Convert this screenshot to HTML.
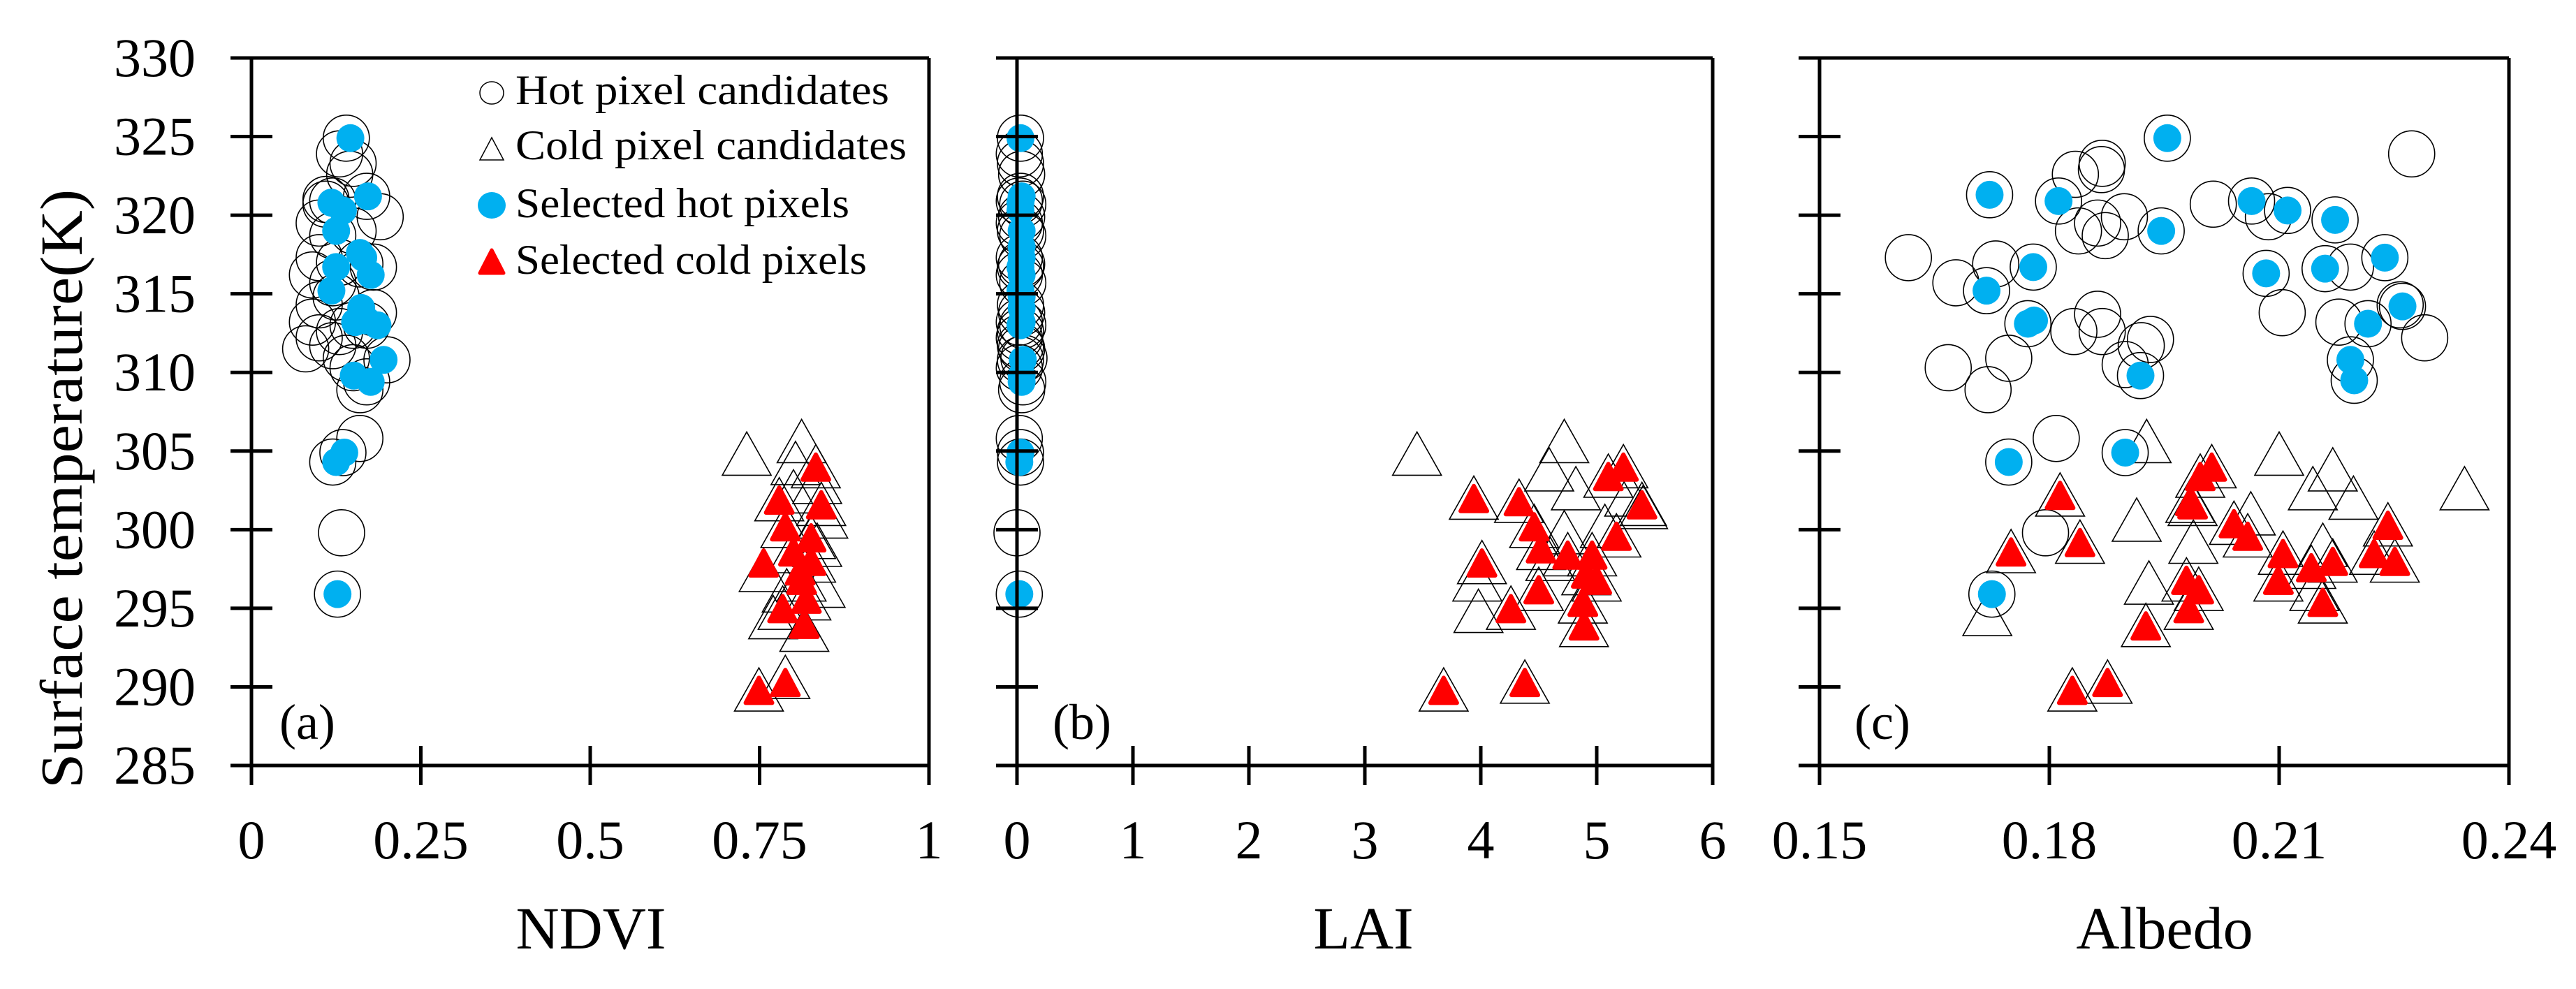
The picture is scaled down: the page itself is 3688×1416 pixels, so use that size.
<!DOCTYPE html>
<html><head><meta charset="utf-8"><style>
html,body{margin:0;padding:0;background:#fff;}
svg{display:block;font-family:"Liberation Serif",serif;}
</style></head><body>
<svg id="chart" width="3688" height="1416" viewBox="0 0 3688 1416" xmlns="http://www.w3.org/2000/svg"></svg>
<script>
// ---------- shared y axis ----------
const yTicks = [285,290,295,300,305,310,315,320,325,330];

// ---------- panel (a) NDVI ----------
const aHotCandX = [0.14,0.13,0.145,0.15,0.12,0.11,0.17,0.19,0.10,0.15,0.12,0.10,0.16,0.18,0.09,0.12,0.10,0.18,0.09,0.15,0.13,0.10,0.08,0.12,0.14,0.20,0.15,0.16,0.12,0.16,0.133,0.127,0.135,0.17,0.11,0.13,0.17,0.125];
const aHotCandY = [324.9,323.9,322.6,323.3,320.9,320.7,321.2,319.9,319.5,319.0,318.7,317.3,316.9,316.7,316.2,315.7,314.3,313.8,313.2,313.0,312.6,312.2,311.5,311.7,310.9,310.8,310.3,308.9,304.3,305.8,299.8,295.9,304.9,309.4,321.0,317.0,313.0,314.8];
const aHotSelX = [0.146,0.172,0.118,0.135,0.125,0.165,0.125,0.176,0.118,0.162,0.153,0.186,0.195,0.151,0.176,0.125,0.137,0.127,0.17,0.16];
const aHotSelY = [324.9,321.2,320.8,320.3,319.0,317.3,316.7,316.2,315.2,314.1,313.2,313.0,310.8,309.8,309.4,304.3,304.9,295.9,313.3,317.6];
const aColdCandX = [0.731,0.812,0.803,0.835,0.844,0.756,0.835,0.770,0.816,0.840,0.788,0.749,0.779,0.826,0.800,0.826,0.812,0.819,0.784,0.833,0.788,0.841,0.80,0.79];
const aColdCandY = [304.7,305.5,304.1,302.9,300.7,297.3,298.9,294.3,293.5,296.3,290.5,289.7,301.8,299.4,298.5,297.9,296.7,295.5,294.9,303.9,300.1,301.5,302.3,296.0];
const aColdSelX = [0.833,0.779,0.841,0.788,0.826,0.800,0.826,0.756,0.812,0.819,0.784,0.816,0.749,0.788,0.81];
const aColdSelY = [303.9,301.8,301.5,300.1,299.4,298.5,297.9,297.8,296.7,295.5,294.9,293.9,289.7,290.2,297.3];

// ---------- panel (b) LAI ----------
const bHotCandX = [0.03,0.02,0.04,0.03,0.02,0.05,0.03,0.04,0.02,0.03,0.05,0.02,0.04,0.03,0.02,0.05,0.03,0.04,0.02,0.05,0.03,0.02,0.04,0.03,0.06,0.03,0.02,0.04,0.03,0.02,0.0,0.02,0.03,0.05];
const bHotCandY = [324.9,323.9,322.6,323.3,320.9,320.7,321.2,319.9,319.5,319.0,318.7,317.3,316.9,316.7,316.2,315.7,314.3,313.8,313.2,313.0,312.6,312.2,311.5,311.7,310.9,310.8,310.3,308.9,304.3,305.8,299.8,295.9,304.9,309.4];
const bHotSelX = [0.03,0.04,0.03,0.03,0.04,0.04,0.03,0.04,0.03,0.04,0.04,0.03,0.05,0.04,0.04,0.02,0.03,0.02,0.04,0.04];
const bHotSelY = [324.9,321.2,320.8,320.3,319.0,317.3,316.7,316.2,315.2,314.1,313.2,313.0,310.8,309.8,309.4,304.3,304.9,295.9,318.0,314.8];
const bColdCandX = [3.45,4.72,4.59,4.82,3.98,3.97,5.28,5.40,4.72,5.07,3.94,4.33,4.46,5.10,5.23,5.39,5.17,4.52,4.75,4.96,4.01,4.91,5.00,4.50,4.88,4.26,4.89,3.68,4.38,4.60];
const bColdCandY = [304.7,305.5,303.7,302.5,294.7,296.7,302.1,301.3,299.7,300.1,301.9,301.7,300.1,303.3,303.9,301.5,299.5,298.7,298.3,298.3,297.8,297.1,296.7,296.1,295.3,294.9,293.8,289.7,290.2,298.0];
const bColdSelX = [3.94,4.33,4.46,5.10,5.23,5.39,5.17,4.52,4.75,4.96,4.01,4.91,5.00,4.50,4.88,4.26,4.89,3.68,4.38];
const bColdSelY = [301.9,301.7,300.1,303.3,303.9,301.5,299.5,298.7,298.3,298.3,297.8,297.1,296.7,296.1,295.3,294.9,293.8,289.7,290.2];

// ---------- panel (c) Albedo ----------
const cHotCandX = [0.1616,0.1678,0.1730,0.1668,0.1720,0.1747,0.1834,0.1868,0.1869,0.1838,0.1863,0.1873,0.1898,0.1832,0.1863,0.1869,0.1899,0.1932,0.1920,0.2014,0.2086,0.2104,0.2193,0.2178,0.2258,0.2290,0.2273,0.1809,0.1795,
  0.1722,0.1812,0.1954,0.1946,0.1779,0.1718,0.1772,0.1919,0.1747,0.1899,0.1725,0.2064,0.2111,0.2173,0.2083,0.2160,0.2238,0.2261,0.2216,0.2193,0.2198];
const cHotCandY = [317.3,315.7,316.9,310.3,308.9,310.9,322.6,322.9,323.3,319.0,319.5,318.7,319.9,312.6,313.7,312.6,310.5,312.1,311.7,320.7,319.9,313.8,316.7,313.2,314.3,312.2,323.9,305.8,299.8,
  321.3,320.9,324.9,319.0,316.7,315.2,313.1,309.8,304.3,304.9,295.9,320.9,320.3,319.7,316.3,316.6,317.3,314.2,313.1,310.8,309.5];
const cHotSelX = [0.1722,0.1812,0.1954,0.1946,0.1779,0.1718,0.1772,0.1780,0.1919,0.1747,0.1899,0.1725,0.2064,0.2111,0.2173,0.2083,0.2160,0.2238,0.2261,0.2216,0.2193,0.2198];
const cHotSelY = [321.3,320.9,324.9,319.0,316.7,315.2,313.1,313.3,309.8,304.3,304.9,295.9,320.9,320.3,319.7,316.3,316.6,317.3,314.2,313.1,310.8,309.5];
const cColdCandX = [0.1927,0.2100,0.2170,0.2144,0.2197,0.2342,0.1914,0.2063,0.1988,0.1930,0.1719,0.2157,0.2146,
  0.1814,0.1750,0.1840,0.2012,0.1997,0.1984,0.1987,0.2041,0.2059,0.2105,0.2142,0.2170,0.2099,0.1979,0.1995,0.1982,0.2157,0.2242,0.2224,0.2251,0.1926,0.1830,0.1876];
const cColdCandY = [305.5,304.7,303.7,302.5,301.9,302.5,300.5,300.9,299.1,296.5,294.5,298.9,296.1,
  302.1,298.5,299.1,303.9,303.3,301.7,301.5,300.3,299.5,298.4,297.5,297.9,296.7,296.7,296.1,294.9,295.3,300.2,298.4,297.9,293.8,289.7,290.2];
const cColdSelX = [0.1814,0.1750,0.1840,0.2012,0.1997,0.1984,0.1987,0.2041,0.2059,0.2105,0.2142,0.2170,0.2099,0.1979,0.1995,0.1982,0.2157,0.2242,0.2224,0.2251,0.1926,0.1830,0.1876];
const cColdSelY = [302.1,298.5,299.1,303.9,303.3,301.7,301.5,300.3,299.5,298.4,297.5,297.9,296.7,296.7,296.1,294.9,295.3,300.2,298.4,297.9,293.8,289.7,290.2];

const aXTicks = [0,0.25,0.5,0.75,1];
const aXLabels = ["0","0.25","0.5","0.75","1"];
const bXTicks = [0,1,2,3,4,5,6];
const bXLabels = ["0","1","2","3","4","5","6"];
const cXTicks = [0.15,0.18,0.21,0.24];
const cXLabels = ["0.15","0.18","0.21","0.24"];

const NS = "http://www.w3.org/2000/svg";
const svg = document.getElementById('chart');
const TOP = 83, BOT = 1096, YMIN = 285, YMAX = 330;
function yScale(v){ return BOT - (v - YMIN) / (YMAX - YMIN) * (BOT - TOP); }
function mk(tag, attrs, parent){
  const e = document.createElementNS(NS, tag);
  for (const k in attrs) e.setAttribute(k, attrs[k]);
  (parent || svg).appendChild(e);
  return e;
}
function triPts(cx, cy, w, h){
  return (cx - w/2) + ',' + (cy + h*0.45) + ' ' + (cx + w/2) + ',' + (cy + h*0.45) + ' ' + cx + ',' + (cy - h*0.55);
}

function panel(p){
  const g = mk('g', {});
  
  
  const xs = v => p.x0 + (v - p.xmin) / (p.xmax - p.xmin) * (p.x1 - p.x0);
  const yAxisX = xs(p.yAxisAt);
  for (let i = 0; i < p.hcx.length; i++){
    const c = mk('circle', {cx: xs(p.hcx[i]), cy: yScale(p.hcy[i]), r: 33, fill: 'none', stroke: '#000', 'stroke-width': 1.6}, g);
    
    
  }
  for (let i = 0; i < p.ccx.length; i++){
    const t = mk('polygon', {points: triPts(xs(p.ccx[i]), yScale(p.ccy[i]), 70, 62), fill: 'none', stroke: '#000', 'stroke-width': 1.6}, g);
    
    
  }
  for (let i = 0; i < p.hsx.length; i++){
    const c = mk('circle', {cx: xs(p.hsx[i]), cy: yScale(p.hsy[i]), r: 20, fill: '#00b0f0'}, g);
    
    
  }
  for (let i = 0; i < p.csx.length; i++){
    const t = mk('polygon', {points: triPts(xs(p.csx[i]), yScale(p.csy[i]), 38, 36), fill: '#ff0000', stroke: '#ff0000', 'stroke-width': 6, 'stroke-linejoin': 'round'}, g);
    
    
  }
  const ax = mk('g', {stroke: '#000', 'stroke-width': 5, fill: 'none'}, g);
  
  
  mk('line', {x1: yAxisX - 25, y1: TOP, x2: p.x1, y2: TOP}, ax);
  mk('line', {x1: p.x1, y1: TOP, x2: p.x1, y2: BOT}, ax);
  mk('line', {x1: Math.min(p.x0, yAxisX - 25), y1: BOT, x2: p.x1, y2: BOT}, ax);
  if (p.yAxisAt !== p.xmin) mk('line', {x1: p.x0, y1: TOP, x2: p.x0, y2: BOT}, ax);
  mk('line', {x1: yAxisX, y1: TOP, x2: yAxisX, y2: BOT}, ax);
  yTicks.forEach(v => { mk('line', {x1: yAxisX - 30, y1: yScale(v), x2: yAxisX + 30, y2: yScale(v)}, ax); });
  p.ticks.forEach(v => { mk('line', {x1: xs(v), y1: BOT - 28, x2: xs(v), y2: BOT + 28}, ax); });
  p.ticks.forEach((v, i) => {
    const t = mk('text', {x: xs(v), y: 1229, 'font-size': 78, 'text-anchor': 'middle', fill: '#000'}, g);
    t.textContent = p.labels[i];
    
    
  });
  const tt = mk('text', {x: p.titleX, y: 1358, 'font-size': 86, 'text-anchor': 'middle', fill: '#000'}, g);
  tt.textContent = p.title;
  
  
  const pl = mk('text', {x: p.tagX, y: 1058, 'font-size': 72, fill: '#000'}, g);
  pl.textContent = '(' + p.id + ')';
  
  
}

panel({id:'a', x0:360, x1:1330, xmin:0, xmax:1, yAxisAt:0, ticks:aXTicks, labels:aXLabels, title:'NDVI', titleX:846, tagX:400,
  hcx:aHotCandX, hcy:aHotCandY, hsx:aHotSelX, hsy:aHotSelY, ccx:aColdCandX, ccy:aColdCandY, csx:aColdSelX, csy:aColdSelY});
panel({id:'b', x0:1456, x1:2452, xmin:0, xmax:6, yAxisAt:0, ticks:bXTicks, labels:bXLabels, title:'LAI', titleX:1952, tagX:1507,
  hcx:bHotCandX, hcy:bHotCandY, hsx:bHotSelX, hsy:bHotSelY, ccx:bColdCandX, ccy:bColdCandY, csx:bColdSelX, csy:bColdSelY});
panel({id:'c', x0:2605, x1:3592, xmin:0.15, xmax:0.24, yAxisAt:0.15, ticks:cXTicks, labels:cXLabels, title:'Albedo', titleX:3099, tagX:2655,
  hcx:cHotCandX, hcy:cHotCandY, hsx:cHotSelX, hsy:cHotSelY, ccx:cColdCandX, ccy:cColdCandY, csx:cColdSelX, csy:cColdSelY});

yTicks.forEach(v => {
  const t = mk('text', {x: 280, y: yScale(v) + 26, 'font-size': 78, 'text-anchor': 'end', fill: '#000'});
  t.textContent = String(v);
  
  
});
const yt = mk('text', {x: 0, y: 0, 'font-size': 86, 'text-anchor': 'middle', fill: '#000', transform: 'translate(117,700) rotate(-90)', textLength: 858, lengthAdjust: 'spacingAndGlyphs'});
yt.textContent = 'Surface temperature(K)';



// legend
const lg = mk('g', {});


const legTexts = ['Hot pixel candidates','Cold pixel candidates','Selected hot pixels','Selected cold pixels'];
const legW = [535, 560, 478, 503];
const legBase = [149, 228, 311, 392];
legTexts.forEach((s, i) => {
  const t = mk('text', {x: 738, y: legBase[i], 'font-size': 60, fill: '#000', textLength: legW[i], lengthAdjust: 'spacingAndGlyphs'}, lg);
  t.textContent = s;
  
  
});
mk('ellipse', {cx: 704, cy: 133, rx: 17, ry: 16, fill: 'none', stroke: '#000', 'stroke-width': 1.5}, lg);
mk('polygon', {points: '687,229 721,229 704,197', fill: 'none', stroke: '#000', 'stroke-width': 1.5}, lg);
mk('ellipse', {cx: 704, cy: 294, rx: 20, ry: 19, fill: '#00b0f0'}, lg);
mk('polygon', {points: '687,391 721,391 704,358', fill: '#ff0000', stroke: '#ff0000', 'stroke-width': 5, 'stroke-linejoin': 'round'}, lg);
</script>
</body></html>
